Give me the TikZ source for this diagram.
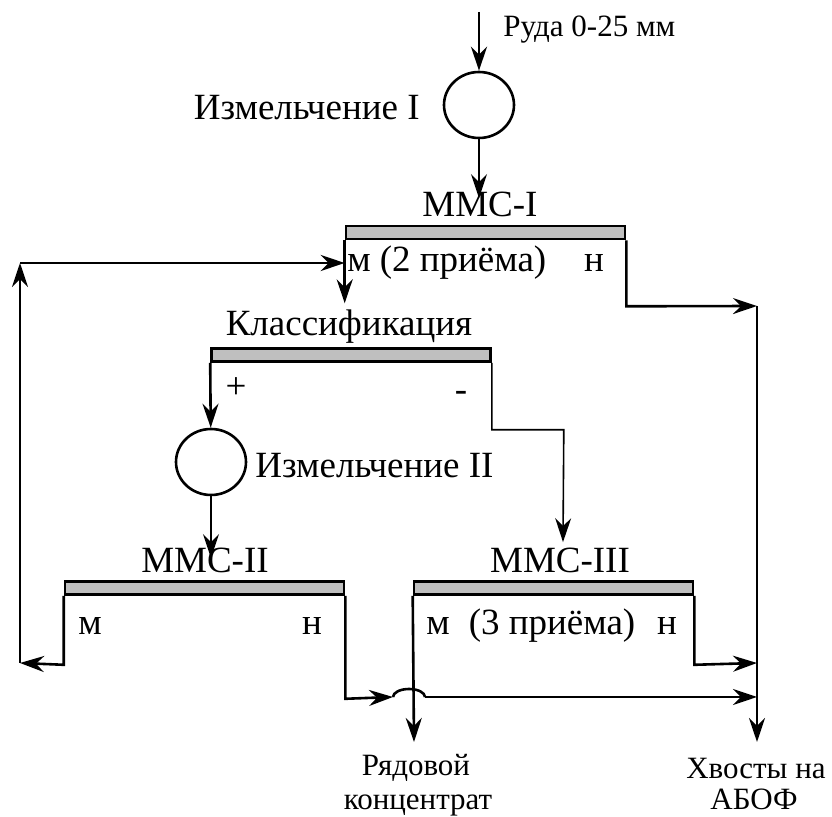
\documentclass[tikz,border=0pt]{standalone}
\usepackage{fontspec}
\setmainfont{Liberation Serif}
\usetikzlibrary{arrows.meta, calc, shapes.geometric}
\tikzset{
  flow/.style={line width=1.3pt, -{Stealth[length=12pt, width=8pt, inset=4pt]}},
  wire/.style={line width=1.3pt},
  sepbar/.style={draw, line width=1.3pt, fill=black!25, minimum width=139.5pt, minimum height=6.5pt, inner sep=0pt},
  mill/.style={draw, ellipse, line width=1.3pt, minimum width=35pt, minimum height=33pt, inner sep=0pt},
  big/.style={font=\fontsize{18.5}{21}\selectfont, inner sep=0pt},
  small/.style={font=\fontsize{15.5}{19}\selectfont, inner sep=0pt}
}
\begin{document}
\begin{tikzpicture}[x=0.5pt, y=-0.5pt]
  \useasboundingbox (0,0) rectangle (832,817);

  % mills and separators
  \node[mill] (mill1) at (479,105) {};
  \node[mill] (mill2) at (211,462) {};
  \node[sepbar] (mms1) at (485.5,232.5) {};
  \node[sepbar] (klass) at (351,355) {};
  \node[sepbar] (mms2) at (204.5,588) {};
  \node[sepbar] (mms3) at (553.5,588) {};

  % labels
  \node[small, anchor=base west] (ore) at (503,37) {Руда 0-25 мм};
  \node[big, anchor=base east] (mill1lbl) at (420,120) {Измельчение I};
  \node[big, anchor=base] (mms1lbl) at (480,217) {ММС-I};
  \node[big, anchor=base] (m1) at (359,272) {м};
  \node[big, anchor=base] (pr2) at (463,272) {(2 приёма)};
  \node[big, anchor=base] (n1) at (594,272) {н};
  \node[big, anchor=base] (klasslbl) at (349,336) {Классификация};
  \node[big, anchor=base] (plus) at (236,399) {+};
  \node[big, anchor=base] (minus) at (461,402) {-};
  \node[big, anchor=base west] (mill2lbl) at (255,478) {Измельчение II};
  \node[big, anchor=base] (mms2lbl) at (205,573) {ММС-II};
  \node[big, anchor=base] (mms3lbl) at (560,573) {ММС-III};
  \node[big, anchor=base] (m2) at (90,635) {м};
  \node[big, anchor=base] (n2) at (312,635) {н};
  \node[big, anchor=base] (m3) at (438,635) {м};
  \node[big, anchor=base] (pr3) at (552,635) {(3 приёма)};
  \node[big, anchor=base] (n3) at (667,635) {н};
  \node[small, anchor=base] (conc) at (416,776) {Рядовой};
  \node[small, anchor=base] (conc2) at (418,810) {концентрат};
  \node[small, anchor=base] (tails) at (756,779) {Хвосты на};
  \node[small, anchor=base] (tails2) at (754,810) {АБОФ};

  % free ends
  \coordinate (feed) at (479,12);
  \coordinate (recycle) at (20,263);
  \coordinate (ret) at (20,663);
  \coordinate (tailsline) at (757,306);
  \coordinate (tailsend) at (757,742);
  \coordinate (concend) at (414,742);
  \coordinate (hopA) at (393,697);
  \coordinate (hopB) at (425,697);

  % flows
  \draw[flow] (feed) -- (mill1);
  \draw[flow] (mill1) -- ([yshift=-3pt]mms1lbl.north -| mill1);
  \draw[flow] (mms1.south west) -- ++(0,63);
  \draw[flow] (mms1.south east) -- ++(0,66) -- (tailsline);
  \draw[flow] (recycle) -- (mms1.south west |- recycle);
  \draw[flow] (klass.south west) -- (mill2);
  \draw[flow, line width=0.8pt] (klass.south east) -- ++(0,67) -- ++(72,0) -- ([yshift=3pt]mms3lbl.north -| 563,0);
  \draw[flow] (mill2) -- ([yshift=-5pt]mms2lbl.north -| mill2);
  \draw[flow] (mms2.south west) -- ++(0,69) -- (ret);
  \draw[flow] (ret) -- (recycle);
  \draw[flow] (mms2.south east) -- ++(0,103) -- (hopA);
  \draw[wire] (hopA) arc[start angle=180, end angle=0, x radius=8pt, y radius=4pt];
  \draw[flow] (hopB) -- (tailsline |- hopB);
  \draw[flow] (mms3.south west) -- (concend);
  \draw[flow] (mms3.south east) -- ++(0,69) -- (tailsline |- ret);
  \draw[flow] (tailsline) -- (tailsend);
\end{tikzpicture}
\end{document}
